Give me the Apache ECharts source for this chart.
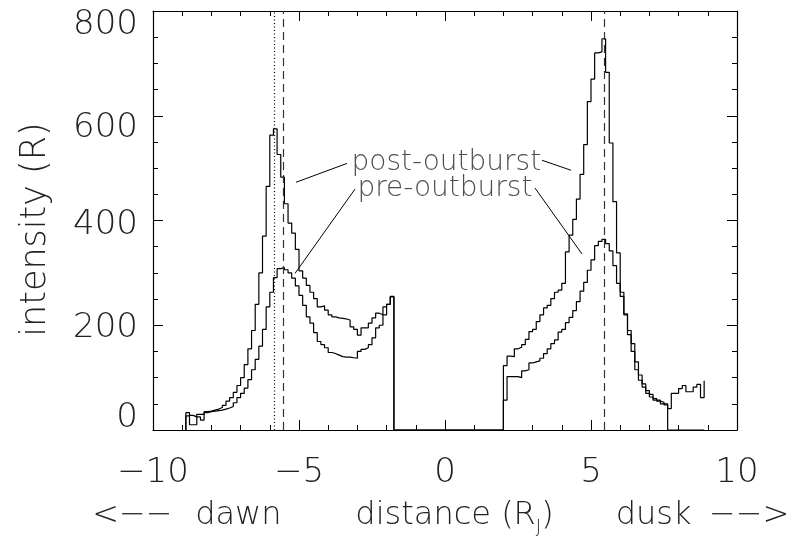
<!DOCTYPE html>
<html>
<head>
<meta charset="utf-8">
<script src="https://cdn.jsdelivr.net/npm/echarts@6/dist/echarts.min.js"></script>
<style>html,body{margin:0;padding:0;background:#fff}#c{width:804px;height:541px}</style>
</head>
<body>
<div id="c"></div>
<script>
// ---- data ----
const binWidth = 0.125;
const leftStart = -8.875;
const rightStart = 2.0;
const postLeft = [33,28,25,30,30,35,36,38,40,43,47,55,62,72,85,100,125,155,190,240,300,370,465,563,575,
  526,483,432,395,376,345,304,290,276,263,251,235,237,229,220,216,214,213,212,210,197,192,181,195,195,204,214,223,220,235,240,255];
const preLeft = [27,10,10,25,19,33,35,36,37,38,40,42,45,52,62,70,80,96,115,135,160,192,235,263,291,
  308,310,306,300,290,275,257,238,216,204,186,169,163,157,148,146,143,140,139,139,138,137,150,154,157,163,176,195,200,220,240,254];
const postRight = [123,141,140,155,158,163,173,188,192,207,220,233,238,251,263,267,280,340,372,402,441,488,545,627,670,720,722,747,683,548,436,338,263,222,182,150,115,95,82,70,63,57,57,50,50,41,70,70,79,85,73,73,82,87,62];
const postRightTail = 94;
const preRight = [57,102,102,102,100,113,115,128,130,132,137,146,155,165,172,187,192,205,215,228,245,265,282,305,325,352,360,364,356,342,314,280,255,220,190,165,130,105,88,75,68,60,55,53,48,0,0,0,0,0,0,0,0,0,0];
const xTicks = [-10,-5,0,5,10];
const yTicks = [0,200,400,600,800];
const dottedLineX = -5.86;
const dashedLinesX = [-5.55, 5.45];
const postLabel = {text:'post-outburst', at:[-3.2, 511], leaders:[[[-3.356,509],[-5.103,473]],[[3.322,515],[4.315,496]]]};
const preLabel  = {text:'pre-outburst',  at:[-3.0, 460], leaders:[[[-3.082,460],[-5.137,299]],[[3.082,462],[4.692,336]]]};

function steps(left, right, tail){
  const d = [[leftStart, 0]];
  left.forEach((v,i)=>d.push([leftStart+i*binWidth, v]));
  d.push([leftStart+left.length*binWidth, 0]);
  d.push([rightStart, 0]);
  right.forEach((v,i)=>d.push([rightStart+i*binWidth, v]));
  const re = rightStart+right.length*binWidth;
  d.push([re, right[right.length-1]]);
  if (tail != null) d.push([re, tail]);
  return d;
}

const FONT = "'DejaVu Sans ExtraLight','DejaVu Sans',sans-serif";
const TXT = '#222';
const fmt = v => String(v).replace('-', '\u2212');
const T = (size, extra) => Object.assign({fontSize:size, fontFamily:FONT, fontWeight:200, color:TXT}, extra||{});

// y tick label vertical nudges (as laid out in the original)
const yLabelPad = {0:[0,0,24,0], 200:[6,0,0,0], 400:[10,0,0,0], 600:[24,0,0,0], 800:[28,0,0,0]};
const yRich = {};
yTicks.forEach(v=>{ yRich['y'+v] = T(34, {padding:yLabelPad[v]}); });

const baseX = {type:'value', min:-10, max:10, interval:5,
  axisLine:{show:true, onZero:false, lineStyle:{color:'#000', width:1.2}},
  axisTick:{show:true, inside:true, length:10, lineStyle:{color:'#000'}},
  minorTick:{show:true, splitNumber:5, length:5, lineStyle:{color:'#000'}},
  splitLine:{show:false}, minorSplitLine:{show:false}};
const baseY = {type:'value', min:0, max:800, interval:200,
  axisLine:{show:true, onZero:false, lineStyle:{color:'#000', width:1.2}},
  axisTick:{show:true, inside:true, length:10, lineStyle:{color:'#000'}},
  minorTick:{show:true, splitNumber:4, length:5, lineStyle:{color:'#000'}},
  splitLine:{show:false}, minorSplitLine:{show:false}};

const LH = 40;
const titleRich = {
  aL:T(32,{width:80, align:'center', lineHeight:LH}),
  g1:T(32,{width:25, lineHeight:LH}),
  w1:T(32,{width:82, align:'center', lineHeight:LH}),
  g2:T(32,{width:76, lineHeight:LH}),
  w2:T(32,{lineHeight:LH}),
  sb:T(18,{lineHeight:LH, verticalAlign:'bottom'}),
  w3:T(32,{lineHeight:LH}),
  g3:T(32,{width:64, lineHeight:LH}),
  w4:T(32,{width:72, align:'center', lineHeight:LH}),
  g4:T(32,{width:11, lineHeight:LH}),
  aR:T(32,{width:97, align:'center', lineHeight:LH})
};
const titleText = '{aL|<\u2212\u2212}{g1| }{w1|dawn}{g2| }{w2|distance (R}{sb|J}{w3|)}{g3| }{w4|dusk}{g4| }{aR|\u2212\u2212>}';

const lineStyle = {color:'#000', width:1.2};
const chart = echarts.init(document.getElementById('c'), null, {renderer:'canvas'});
chart.setOption({
  animation:false,
  grid:{left:153, right:67, top:11, bottom:104},
  xAxis:[
    Object.assign({}, baseX, {position:'bottom',
      axisLabel:T(34, {show:true, margin:26, formatter:fmt}),
      name:titleText, nameLocation:'middle', nameGap:66,
      nameTextStyle:{rich:titleRich}}),
    Object.assign({}, baseX, {position:'top', axisLabel:{show:false}})
  ],
  yAxis:[
    Object.assign({}, baseY, {position:'left',
      axisLabel:{show:true, margin:15, formatter:v=>'{y'+v+'|'+v+'}', rich:yRich},
      name:'intensity (R)', nameLocation:'middle', nameGap:100,
      nameTextStyle:T(35, {padding:[0,18,0,0]})}),
    Object.assign({}, baseY, {position:'right', axisLabel:{show:false}})
  ],
  series:[
    {type:'line', name:'post-outburst', step:'end', showSymbol:false, data:steps(postLeft, postRight, postRightTail), lineStyle:lineStyle,
     markLine:{silent:true, symbol:'none', label:{show:false},
       data:[{xAxis:dottedLineX, lineStyle:{color:'#000', width:1.2, type:[1,2.5]}}]
         .concat(dashedLinesX.map(x=>({xAxis:x, lineStyle:{color:'#333', width:1.2, type:[8,5]}})))}},
    {type:'line', name:'pre-outburst', step:'end', showSymbol:false, data:steps(preLeft, preRight, null), lineStyle:lineStyle},
    {type:'scatter', symbolSize:0, silent:true,
     data:[{value:postLabel.at, name:postLabel.text},{value:preLabel.at, name:preLabel.text}],
     label:T(28, {show:true, position:'right', distance:0, formatter:p=>p.name}),
     markLine:{silent:true, symbol:'none', label:{show:false}, lineStyle:{color:'#000', width:1, type:'solid'},
       data:postLabel.leaders.concat(preLabel.leaders).map(s=>[{coord:s[0]},{coord:s[1]}])}}
  ]
});
</script>
</body>
</html>
